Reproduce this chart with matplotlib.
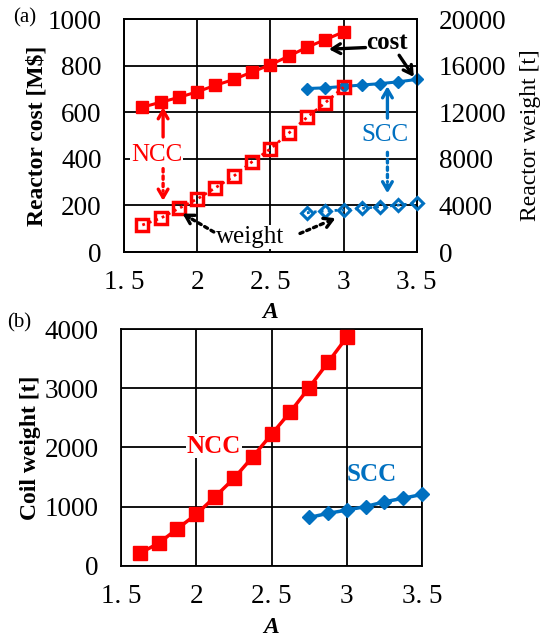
import matplotlib
matplotlib.use("Agg")
import matplotlib.pyplot as plt

plt.rcParams['font.family'] = ['Liberation Serif', 'DejaVu Serif']
plt.rcParams['mathtext.fontset'] = 'stix'

# aspect ratio A
A_ncc = [1.625, 1.75, 1.875, 2.0, 2.125, 2.25, 2.375, 2.5, 2.625, 2.75, 2.875, 3.0]
A_scc = [2.75, 2.875, 3.0, 3.125, 3.25, 3.375, 3.5]

# (a) reactor cost [M$] and reactor weight [t]
cost_ncc = [622, 643, 664, 688, 716, 741, 773, 804, 841, 879, 912, 945]
cost_scc = [702, 705, 711, 717, 723, 731, 741]
weight_ncc = [2320, 2900, 3750, 4550, 5520, 6520, 7750, 8850, 10200, 11560, 12820, 14150]
weight_scc = [3370, 3540, 3600, 3750, 3890, 4030, 4180]

# (b) coil weight [t]
coil_ncc = [210, 380, 625, 870, 1165, 1475, 1840, 2220, 2600, 3010, 3435, 3860]
coil_scc = [815, 885, 940, 1000, 1080, 1140, 1205]

x_ticks = [1.5, 2.0, 2.5, 3.0, 3.5]
x_tick_labels = ['1. 5', '2', '2. 5', '3', '3. 5']

RED = '#FF0000'
BLUE = '#0070C0'
FS = 19.5

fig = plt.figure(figsize=(5.43, 6.38), dpi=100)
ax = fig.add_axes([0.2284, 0.605, 0.539, 0.365])
ax_b = fig.add_axes([0.2228, 0.1133, 0.5544, 0.371])


def style_axes(a, ylim, yticks):
    a.set_xlim(1.5, 3.5)
    a.set_ylim(*ylim)
    a.set_xticks(x_ticks, labels=x_tick_labels)
    a.set_yticks(yticks)
    a.grid(True, color='black', lw=1.3)
    a.set_axisbelow(True)
    a.tick_params(length=0, labelsize=FS, pad=16)
    a.tick_params(axis='x', pad=13)
    for s in a.spines.values():
        s.set_linewidth(1.3)


def dotted_arrow(a, tail, tip, color, frac=0.8):
    mid = (tail[0] + (tip[0] - tail[0]) * frac, tail[1] + (tip[1] - tail[1]) * frac)
    a.annotate('', xy=mid, xytext=tail,
               arrowprops=dict(arrowstyle='-', color=color, lw=2.4, ls=(0, (1, 1.2))))
    a.annotate('', xy=tip, xytext=mid,
               arrowprops=dict(arrowstyle='->,head_length=0.6,head_width=0.35',
                               color=color, lw=2.4, shrinkA=0, shrinkB=0))


def solid_arrow(a, tail, tip, color):
    a.annotate('', xy=tip, xytext=tail,
               arrowprops=dict(arrowstyle='->,head_length=0.6,head_width=0.35',
                               color=color, lw=2.4, shrinkA=0, shrinkB=0))


# ---- (a) ----
style_axes(ax, (0, 1000), [0, 200, 400, 600, 800, 1000])
ax.plot(A_ncc, cost_ncc, color=RED, lw=2.2, marker='s', ms=9, zorder=3, clip_on=False)
ax.plot(A_scc, cost_scc, color=BLUE, lw=2.2, marker='D', ms=6, zorder=3, clip_on=False)
ax.set_ylabel('Reactor cost [M$]', fontsize=17, fontweight='bold', va='center')
ax.yaxis.set_label_coords(-0.297, 0.5)
ax.set_xlabel('A', fontsize=17, fontweight='bold', fontstyle='italic', va='center')
ax.xaxis.set_label_coords(0.5, -0.258)

ax2 = ax.twinx()
ax2.set_ylim(0, 20000)
ax2.set_yticks([0, 4000, 8000, 12000, 16000, 20000])
ax2.tick_params(length=0, labelsize=FS, pad=16)
ax2.plot(A_ncc, weight_ncc, color=RED, lw=2, ls=(0, (1, 1.5)), marker='s', ms=8,
         mfc='none', mec=RED, mew=2.5, zorder=3, clip_on=False)
ax2.plot(A_scc, weight_scc, color=BLUE, lw=2, ls=(0, (1, 1.5)), marker='D', ms=6,
         mfc='none', mec=BLUE, mew=2.2, zorder=3, clip_on=False)
ax2.set_ylabel('Reactor weight [t]', fontsize=17, va='center', rotation=90)
ax2.yaxis.set_label_coords(1.39, 0.5)
for s in ax2.spines.values():
    s.set_linewidth(1.3)


# annotations given in left-axis (cost) units, drawn on the weight axis
def w(y):
    return y * 20


ax2.text(1.724, w(416), 'NCC', color=RED, fontsize=18, ha='center', va='center',
         bbox=dict(fc='white', ec='none', pad=0.5))
solid_arrow(ax2, (1.767, w(494)), (1.767, w(622)), RED)
dotted_arrow(ax2, (1.767, w(370)), (1.767, w(220)), RED)

ax2.text(3.30, w(898), 'cost', color='black', fontsize=18, fontweight='bold',
         ha='center', va='center')
solid_arrow(ax2, (3.15, w(878)), (2.90, w(871)), 'black')
solid_arrow(ax2, (3.38, w(845)), (3.48, w(752)), 'black')

ax2.text(2.363, w(64), 'weight', color='black', fontsize=18, ha='center', va='center',
         bbox=dict(fc='white', ec='none', pad=0.5))
dotted_arrow(ax2, (2.13, w(80)), (1.90, w(165)), 'black')
dotted_arrow(ax2, (2.685, w(75)), (2.945, w(145)), 'black')

ax2.text(3.28, w(502), 'SCC', color=BLUE, fontsize=18, ha='center', va='center')
solid_arrow(ax2, (3.30, w(575)), (3.30, w(712)), BLUE)
dotted_arrow(ax2, (3.30, w(440)), (3.30, w(252)), BLUE)

fig.text(13 / 543, 1 - 18 / 638, '(a)', fontsize=15, ha='left', va='center')

# ---- (b) ----
style_axes(ax_b, (0, 4000), [0, 1000, 2000, 3000, 4000])
ax_b.plot(A_ncc, coil_ncc, color=RED, lw=2.5, marker='s', ms=10, zorder=3, clip_on=False)
ax_b.plot(A_scc, coil_scc, color=BLUE, lw=2.5, marker='D', ms=7, zorder=3, clip_on=False)
ax_b.set_ylabel('Coil weight [t]', fontsize=17, fontweight='bold', va='center')
ax_b.yaxis.set_label_coords(-0.30, 0.5)
ax_b.set_xlabel('A', fontsize=17, fontweight='bold', fontstyle='italic', va='center')
ax_b.xaxis.set_label_coords(0.5, -0.259)
ax_b.text(2.118, 2022, 'NCC', color=RED, fontsize=18, fontweight='bold',
          ha='center', va='center', bbox=dict(fc='white', ec='none', pad=0.5))
ax_b.text(3.168, 1549, 'SCC', color=BLUE, fontsize=18, fontweight='bold',
          ha='center', va='center')

fig.text(7 / 543, 1 - 323 / 638, '(b)', fontsize=15, ha='left', va='center')

fig.savefig('out.png', dpi=100)
